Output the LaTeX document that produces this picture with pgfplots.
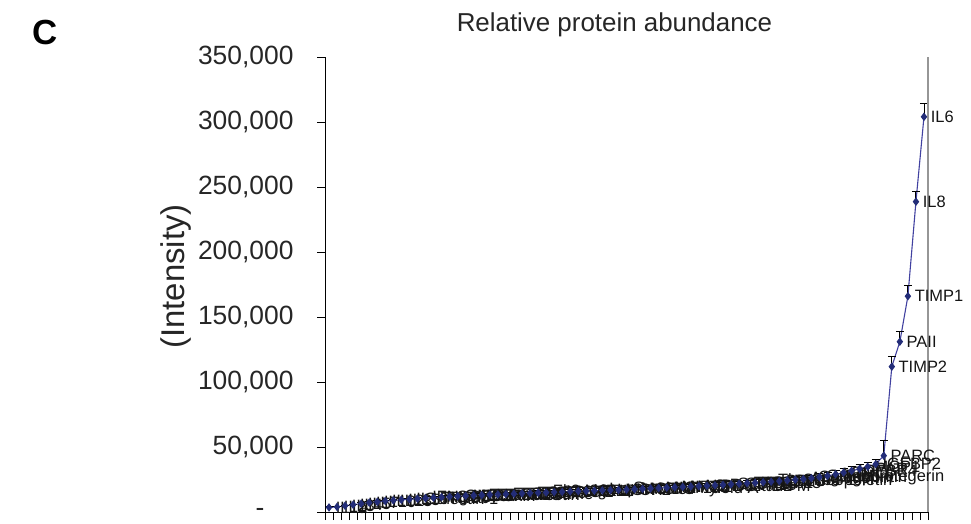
\documentclass[border=0pt]{standalone}
\usepackage{pgfplots}
\pgfplotsset{compat=1.18}
\usepackage{pgfplotstable}
\usepackage{fontspec}
\setmainfont{Liberation Sans}

\definecolor{seriesline}{RGB}{65,65,160}
\definecolor{seriesmark}{RGB}{35,45,120}
\definecolor{framegray}{RGB}{150,150,150}
\definecolor{labeltext}{RGB}{20,20,20}

% protein intensities, sorted ascending; err = upper error bar
\pgfplotstableread[col sep=comma,row sep=\\]{
idx,val,err,name\\
1,3500,400,IL1a\\
2,3900,400,IL2\\
3,4800,500,IL3\\
4,5600,500,IL4\\
5,6400,600,IL5\\
6,7200,700,IL7\\
7,7800,700,IL10\\
8,8400,800,IL12\\
9,8900,800,IL13\\
10,9400,900,IL15\\
11,9800,900,IL16\\
12,10200,1000,Galectin 1\\
13,10600,1000,IFNg\\
14,11000,1000,TNFa\\
15,11400,1100,TNFb\\
16,11800,1100,GCSF\\
17,12100,1100,GMCSF\\
18,12400,1200,MCSF\\
19,12700,1200,Eotaxin\\
20,13000,1200,Eotaxin2\\
21,13300,1300,Eotaxin3\\
22,13500,1300,E-Selectin\\
23,13800,1300,Fractalkine\\
24,14000,1300,FGF4\\
25,14300,1400,FGF6\\
26,14500,1400,FGF7\\
27,14800,1400,FGF9\\
28,15000,1400,Flt3 Ligand\\
29,15300,1500,GDNF\\
30,15500,1500,GCP2\\
31,15800,1500,HGF\\
32,16000,1500,I309\\
33,16200,1600,IGF1\\
34,16400,1600,IP10\\
35,16600,1600,Leptin\\
36,16800,1600,LIGHT\\
37,17000,1700,MCP2\\
38,17200,1700,Serum amyloid A\\
39,17500,1700,MCP3\\
40,17800,1700,MCP4\\
41,18100,1800,MDC\\
42,18400,1800,MIG\\
43,18700,1800,MIP1d\\
44,19000,1800,MIP3a\\
45,19300,1900,NAP2\\
46,19600,1900,NT3\\
47,19900,1900,NT4\\
48,20200,2000,Oncostatin M\\
49,20500,2000,PDGF BB\\
50,20900,2000,RANTES\\
51,21300,2100,SCF\\
52,21700,2100,SDF1\\
53,22100,2200,TARC\\
54,22500,2200,TGFb1\\
55,22900,2200,TGFb3\\
56,23300,2300,Thrombopoietin\\
57,23800,2300,BDNF\\
58,24300,2400,BLC\\
59,24800,2400,Ckb8-1\\
60,25300,2500,Angiogenin\\
61,26000,2500,Osteopontin\\
62,26800,2600,Osteoprotegerin\\
63,27800,2700,VEGF\\
64,29000,2800,MIF\\
65,30300,2900,GRO\\
66,31700,3000,IGFBP4\\
67,33200,3200,uPAR\\
68,34800,3300,MCP1\\
69,36800,3500,IGFBP2\\
70,43300,11500,PARC\\
71,111800,7700,TIMP2\\
72,131000,7700,PAII\\
73,166000,8000,TIMP1\\
74,238700,7500,IL8\\
75,304000,10000,IL6\\
}\abundance

\begin{document}
\begin{tikzpicture}
\path[use as bounding box] (0,0) rectangle (971bp,524bp);

\node[font=\bfseries\fontsize{35}{38}\selectfont, anchor=base] at (45bp,479bp) {C};

\begin{axis}[
  at={(325bp,12bp)}, anchor=south west,
  scale only axis, width=603bp, height=455bp,
  clip=false,
  xmin=0.5, xmax=75.5,
  ymin=0, ymax=350000,
  xtick={0.5,1.5,...,75.5}, xticklabels={},
  ytick={0,50000,100000,150000,200000,250000,300000,350000},
  yticklabels={{-\hspace*{29bp}},{50,000},{100,000},{150,000},{200,000},{250,000},{300,000},{350,000}},
  scaled y ticks=false,
  axis x line*=bottom, axis y line*=left,
  axis line style={black, line width=1bp, -},
  tick align=outside,
  major tick length=8bp,
  tick style={black, line width=0.8bp},
  yticklabel style={font=\fontsize{26.5}{29}\selectfont, text=black!85, xshift=-20bp},
  title={Relative protein abundance},
  title style={font=\fontsize{26}{29}\selectfont, text=black!85, at={(axis description cs:0.48,1)}, anchor=base, yshift=20bp},
  ylabel={(Intensity)},
  ylabel style={font=\fontsize{33}{36}\selectfont, text=black!85, xshift=8bp},
]
\addplot[color=seriesline, line width=1.1bp,
  mark=diamond*, mark size=3.4bp,
  mark options={fill=seriesmark, draw=seriesmark, solid},
  point meta=explicit symbolic,
  nodes near coords,
  nodes near coords style={anchor=west, font=\fontsize{16.5}{18}\selectfont, text=labeltext, xshift=3bp},
  error bars/.cd,
    y dir=plus, y explicit,
    error bar style={black, line width=0.9bp},
    error mark options={black, rotate=90, mark size=4bp, line width=0.9bp}
] table[x=idx, y=val, y error=err, meta=name] {\abundance};

\draw[framegray, line width=1.2bp] (rel axis cs:1,0) -- (rel axis cs:1,1);
\end{axis}
\end{tikzpicture}
\end{document}
